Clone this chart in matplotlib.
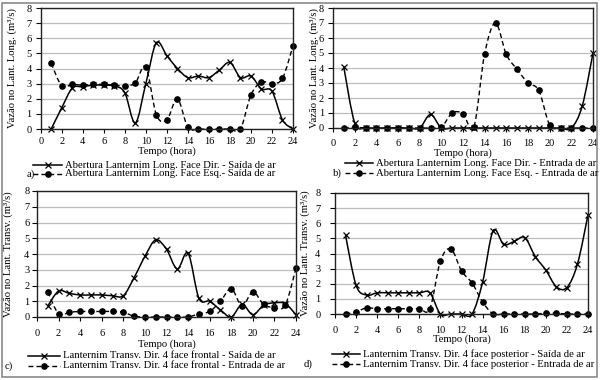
import matplotlib
matplotlib.use("Agg")
import matplotlib.pyplot as plt
import numpy as np
from matplotlib.path import Path
from matplotlib.patches import PathPatch, Rectangle
from matplotlib.lines import Line2D

plt.rcParams['font.family'] = ['Liberation Serif', 'DejaVu Serif']
plt.rcParams['font.size'] = 7.5

hours = list(range(1, 25))

# a) longitudinal lantern, air outlet
a_dir = [0, 1.4, 2.7, 2.8, 2.9, 2.9, 2.85, 2.4, 0.4, 3.0, 5.7, 4.85,
         4.0, 3.4, 3.5, 3.4, 3.9, 4.4, 3.4, 3.5, 2.65, 2.5, 0.6, 0.0]
a_esq = [4.35, 2.85, 2.95, 2.9, 2.95, 2.95, 2.9, 2.85, 3.05, 4.1, 0.95, 0.6,
         2.0, 0.1, 0, 0, 0, 0, 0, 2.25, 3.1, 3.0, 3.35, 5.5]
# b) longitudinal lantern, air inlet
b_dir = [4.05, 0.35, 0, 0, 0, 0, 0, 0, 0.9, 0, 0, 0,
         0, 0, 0, 0, 0, 0, 0, 0, 0, 0, 1.45, 5.0]
b_esq = [0, 0.05, 0, 0, 0, 0, 0, 0, 0, 0.05, 1.0, 0.95,
         0.05, 4.95, 7.0, 4.9, 3.9, 3.0, 2.5, 0.2, 0, 0, 0, 0]
# c) transversal lantern, front face
c_out = [0.7, 1.65, 1.5, 1.4, 1.4, 1.4, 1.35, 1.35, 2.5, 3.85, 4.9, 4.3,
         3.05, 4.05, 1.2, 1.0, 0.45, 0.0, 0.8, 0.15, 0.75, 0.9, 0.85, 0.15]
c_in = [1.6, 0.2, 0.3, 0.35, 0.35, 0.35, 0.35, 0.3, 0.05, 0, 0, 0,
        0, 0, 0.2, 0.35, 1.0, 1.8, 0.7, 1.6, 0.8, 0.6, 0.75, 3.1]
# d) transversal lantern, back face
d_out = [5.2, 1.9, 1.25, 1.4, 1.4, 1.4, 1.4, 1.4, 1.4, 0, 0, 0,
         0, 2.1, 5.5, 4.6, 4.8, 5.05, 3.8, 2.9, 1.8, 1.75, 3.3, 6.55]
d_in = [0, 0.15, 0.4, 0.35, 0.35, 0.35, 0.35, 0.35, 0.35, 3.5, 4.3, 2.85,
        2.05, 0.8, 0, 0, 0, 0, 0, 0.05, 0.05, 0, 0, 0]

labels_a = ["Abertura Lanternim Long. Face Dir. - Saída de ar",
            "Abertura Lanternim Long. Face Esq.- Saída de ar"]
labels_b = ["Abertura Lanternim Long. Face Dir. - Entrada de ar",
            "Abertura Lanternim Long. Face Esq. - Entrada de ar"]
labels_c = ["Lanternim Transv. Dir. 4 face frontal - Saída de ar",
            "Lanternim Transv. Dir. 4 face frontal - Entrada de ar"]
labels_d = ["Lanternim Transv. Dir. 4 face posterior - Saída de ar",
            "Lanternim Transv. Dir. 4 face posterior - Entrada de ar"]
ylab_long = "Vazão no Lant. Long. (m³/s)"
ylab_transv = "Vazão no Lant. Transv. (m³/s)"

W, H = 600, 380
fig = plt.figure(figsize=(6, 3.8), dpi=100)

DASH = (0, (3.5, 2.2))
X_MS, O_MS = 4.6, 3.8
LEG_FS = 7.7


def smooth_path(x, y):
    # Excel-like smoothed line: Catmull-Rom segments as cubic Beziers
    pts = np.column_stack([x, y]).astype(float)
    n = len(pts)
    verts = [pts[0]]
    codes = [Path.MOVETO]
    for i in range(n - 1):
        p0 = pts[max(i - 1, 0)]
        p1 = pts[i]
        p2 = pts[i + 1]
        p3 = pts[min(i + 2, n - 1)]
        verts += [p1 + (p2 - p0) / 6, p2 - (p3 - p1) / 6, p2]
        codes += [Path.CURVE4] * 3
    return Path(verts, codes)


def fx(px):
    return px / W


def fy(py):
    return 1 - py / H


def panel(box, s1, s2, ylab, ylab_x, ypad, xpad, xlab_y, leg, labels, tag):
    l, r, t, b = box
    ax = fig.add_axes([fx(l), fy(b), fx(r - l), fy(t) - fy(b)])
    ax.set_xlim(0, 24)
    ax.set_ylim(0, 8)
    ax.set_xticks(range(0, 25, 2))
    ax.set_yticks(range(0, 9))
    ax.grid(axis='y', color='#bdbdbd', lw=0.9)
    ax.set_axisbelow(True)
    for sp in ax.spines.values():
        sp.set_color('#222222')
        sp.set_linewidth(1.0)
    ax.tick_params(axis='y', length=3.5, width=0.8, pad=ypad)
    ax.tick_params(axis='x', length=3, width=0.8, pad=xpad)

    ax.add_patch(PathPatch(smooth_path(hours, s1), fill=False, color='k',
                           lw=1.1, clip_on=False))
    ax.add_patch(PathPatch(smooth_path(hours, s2), fill=False, color='k',
                           lw=1.0, ls=DASH, clip_on=False))
    ax.plot(hours, s1, ls='none', marker='x', ms=X_MS, mew=0.9, color='k',
            clip_on=False)
    ax.plot(hours, s2, ls='none', marker='o', ms=O_MS, color='k',
            clip_on=False)

    ax.set_ylabel(ylab, fontsize=7.7)
    ax.yaxis.set_label_coords(fx(ylab_x), (fy(t) + fy(b)) / 2,
                              transform=fig.transFigure)
    ax.yaxis.label.set_va('center')
    ax.set_xlabel("Tempo (hora)", va='center', fontsize=7.7)
    ax.xaxis.set_label_coords(fx((l + r) / 2), fy(xlab_y),
                              transform=fig.transFigure)

    # legend rows drawn below the axes
    h0, h1, tx, y1, y2, tagx = leg
    styles = [dict(ls='-', marker='x', ms=X_MS, mew=0.9, lw=1.1),
              dict(ls=DASH, marker='o', ms=O_MS, lw=1.0)]
    for yy, st, lab in zip([y1, y2], styles, labels):
        fig.add_artist(Line2D([fx(h0), fx(h1)], [fy(yy), fy(yy)], color='k',
                              lw=st['lw'], ls=st['ls'],
                              transform=fig.transFigure))
        fig.add_artist(Line2D([fx((h0 + h1) / 2)], [fy(yy)], color='k',
                              ls='none', marker=st['marker'], ms=st['ms'],
                              mew=st.get('mew', 1.0),
                              transform=fig.transFigure))
        fig.text(fx(tx), fy(yy), lab, ha='left', va='center', fontsize=LEG_FS)
    fig.text(fx(tagx), fy(y2), tag, ha='center', va='center', fontsize=LEG_FS)
    return ax


panel((40.7, 293, 8, 129), a_dir, a_esq, ylab_long, 12, 3, 2.5, 151,
      (33, 62, 65, 165, 174, 31), labels_a, "a)")
panel((333, 593, 8, 128), b_dir, b_esq, ylab_long, 314, 3, 5, 153,
      (345, 373, 376, 163, 173, 337), labels_b, "b)")
panel((37, 296, 191, 317), c_out, c_in, ylab_transv, 8, 2, 5.5, 344,
      (28, 60, 63, 356, 366, 9), labels_c, "c)")
panel((335, 588, 193, 314), d_out, d_in, ylab_transv, 305, 7, 5.5, 339,
      (332, 360, 363, 354, 364, 308), labels_d, "d)")

fig.add_artist(Rectangle((fx(2), fy(377)), fx(595), fy(3) - fy(377),
                         fill=False, ec='#8a8a8a', lw=1.2,
                         transform=fig.transFigure))

fig.savefig("out.png", dpi=100)
